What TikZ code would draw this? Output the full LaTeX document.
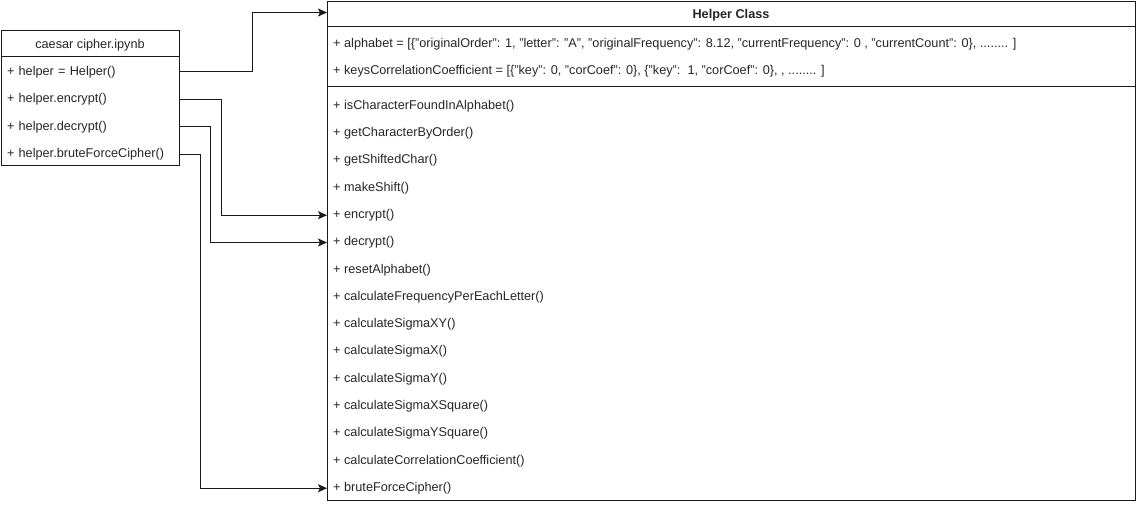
\documentclass[tikz,border=0pt]{standalone}
\usepackage{fontspec}
\setmainfont{Liberation Sans}
\usetikzlibrary{arrows.meta}
\definecolor{ink}{HTML}{1A1A1A}
\definecolor{txt}{HTML}{262626}
\tikzset{
  box/.style={draw=ink, line width=1pt},
  lrow/.style={minimum width=178pt, text width=166pt, inner xsep=6pt, inner ysep=0pt, minimum height=27pt, align=left, text=txt, font=\fontsize{12.7}{14}\selectfont},
  hrow/.style={anchor=west, inner xsep=6pt, inner ysep=0pt, minimum height=27pt, text=txt, font=\fontsize{12.7}{14}\selectfont},
  ttl/.style={inner sep=0pt, text=txt, font=\fontsize{12.7}{14}\selectfont},
  conn/.style={draw=ink, line width=1pt, -{Stealth[length=9pt,width=8pt,inset=2pt]}}
}
\begin{document}
\begin{tikzpicture}[x=1pt,y=-1pt]
\useasboundingbox (0,0) rectangle (1137,505);
% left box
\draw[box] (1,31) rectangle (179,166);
\draw[box] (1,57) -- (179,57);
\node[ttl] (ltitle) at (90,45) {caesar cipher.ipynb};
\node[lrow] (lhelper) at (90,72) {+ helper = Helper()};
\node[lrow] (lenc) at (90,99.5) {+ helper.encrypt()};
\node[lrow] (ldec) at (90,127) {+ helper.decrypt()};
\node[lrow] (lbf) at (90,154.5) {+ helper.bruteForceCipher()};
% helper box
\draw[box] (327,2) rectangle (1135,500);
\draw[box] (327,27) -- (1135,27);
\draw[box] (327,87) -- (1135,87);
\node[ttl, font=\fontsize{12.7}{14}\selectfont\bfseries] (htitle) at (731,15.5) {Helper Class};
\coordinate (hin) at (327,12.5);
\node[hrow] (a1) at (327,44.5) {+ alphabet = [\{"originalOrder": 1, "letter": "A", "originalFrequency": 8.12, "currentFrequency": 0 , "currentCount": 0\}, ........ ]};
\node[hrow] (a2) at (327,71.5) {+ keysCorrelationCoefficient = [\{"key": 0, "corCoef": 0\}, \{"key":\ \ 1, "corCoef": 0\}, , ........ ]};
\node[hrow] (m1) at (327,106) {+ isCharacterFoundInAlphabet()};
\node[hrow] (m2) at (327,133.3) {+ getCharacterByOrder()};
\node[hrow] (m3) at (327,160.6) {+ getShiftedChar()};
\node[hrow] (m4) at (327,187.9) {+ makeShift()};
\node[hrow] (m5) at (327,215.2) {+ encrypt()};
\node[hrow] (m6) at (327,242.5) {+ decrypt()};
\node[hrow] (m7) at (327,269.8) {+ resetAlphabet()};
\node[hrow] (m8) at (327,297.1) {+ calculateFrequencyPerEachLetter()};
\node[hrow] (m9) at (327,324.4) {+ calculateSigmaXY()};
\node[hrow] (m10) at (327,351.7) {+ calculateSigmaX()};
\node[hrow] (m11) at (327,379) {+ calculateSigmaY()};
\node[hrow] (m12) at (327,406.3) {+ calculateSigmaXSquare()};
\node[hrow] (m13) at (327,433.6) {+ calculateSigmaYSquare()};
\node[hrow] (m14) at (327,460.9) {+ calculateCorrelationCoefficient()};
\node[hrow] (m15) at (327,488.2) {+ bruteForceCipher()};
% connectors
\draw[conn] (lhelper.east) -- ++(73,0) |- (hin);
\draw[conn] (lenc.east) -- ++(42,0) |- (m5.west);
\draw[conn] (ldec.east) -- ++(31,0) |- (m6.west);
\draw[conn] (lbf.east) -- ++(21,0) |- (m15.west);
\end{tikzpicture}
\end{document}
